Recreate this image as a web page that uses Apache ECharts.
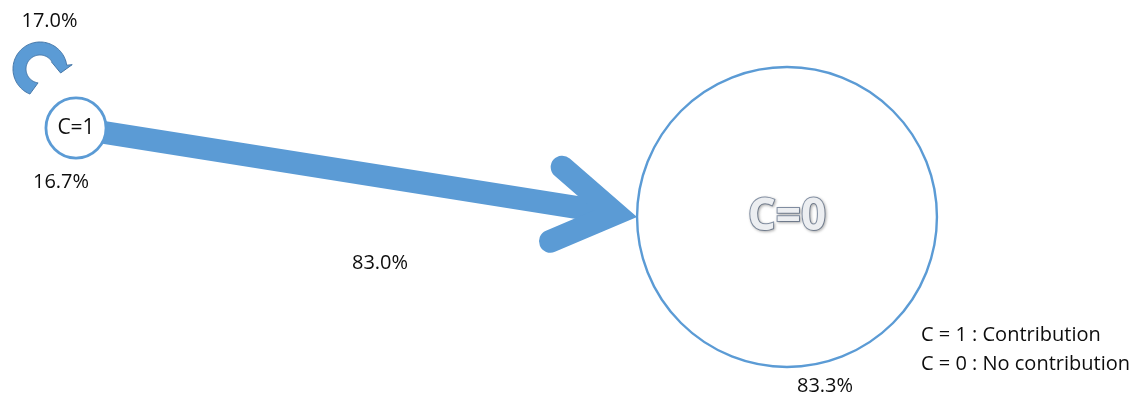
<!DOCTYPE html>
<html>
<head>
<meta charset="utf-8">
<script src="https://cdn.jsdelivr.net/npm/echarts@6/dist/echarts.min.js"></script>
<style>
html,body{margin:0;padding:0;background:#fff;}
#chart{width:1144px;height:399px;}
</style>
</head>
<body>
<div id="chart"></div>
<script>
// ---------------- data ----------------
const stateNames = ['C=1', 'C=0'];
const stateShares = [16.7, 83.3];           // stationary share of each state (%)
const transFrom = [0, 0];                   // index into stateNames
const transTo = [0, 1];
const transProbs = [17.0, 83.0];            // transition probability (%)
const legendLines = ['C = 1 : Contribution', 'C = 0 : No contribution'];

// ---------------- layout (positions / sizes / styles) ----------------
const LAYOUT = {
  nodeCenters: [[76, 128], [787, 217]],
  radiusPerPct: 1.8,
  shareLabelPos: [[61, 182.5], [825, 386.7]],
  transLabelPos: [[49.5, 21.7], [380, 263.3]],
  loop: { center: [40, 69], rIn: 14, rOut: 27 },
  arrow: { width: 23, headHalfAngle: 32, headArm: 70.8 },
  legendPos: [921, 338],
  legendGap: 29
};
const BLUE = '#5b9bd5';
const FONT = '"Open Sans", "Noto Sans", sans-serif';
const TEXT = '#0d0d0d';

const chart = echarts.init(document.getElementById('chart'), null, { renderer: 'canvas' });

function rad(d) { return d * Math.PI / 180; }

function renderTransition(params, api) {
  const from = api.value(0), to = api.value(1), prob = api.value(2);
  const children = [];
  const lbl = LAYOUT.transLabelPos[params.dataIndex];
  const lp = api.coord(lbl);
  if (from === to) {
    const L = LAYOUT.loop;
    const pt = (a, r) => api.coord([L.center[0] + r * Math.cos(rad(a)), L.center[1] + r * Math.sin(rad(a))]);
    const pts = [];
    for (let a = 112; a <= 352; a += 3) pts.push(pt(a, L.rOut));
    pts.push(pt(352, L.rOut));
    pts.push(pt(352.3, 32.5));
    pts.push(pt(371, 21));
    pts.push(pt(328, 13.5));
    for (let a = 328; a >= 98; a -= 3) pts.push(pt(a, L.rIn));
    pts.push(pt(98, L.rIn));
    children.push({
      type: 'polygon', shape: { points: pts },
      style: { fill: BLUE, stroke: '#4677a8', lineWidth: 1 }
    });
  } else {
    const c0 = LAYOUT.nodeCenters[from], c1 = LAYOUT.nodeCenters[to];
    const r0 = stateShares[from] * LAYOUT.radiusPerPct;
    const r1 = stateShares[to] * LAYOUT.radiusPerPct;
    const T = [c1[0] - r1, c1[1]];
    let ux = T[0] - c0[0], uy = T[1] - c0[1];
    const len = Math.hypot(ux, uy); ux /= len; uy /= len;
    const nx = -uy, ny = ux;
    const A = LAYOUT.arrow, hw = A.width / 2;
    const th = rad(A.headHalfAngle);
    const miter = hw / Math.sin(th);
    const S = [c0[0] + ux * (r0 - 3), c0[1] + uy * (r0 - 3)];
    const V = [T[0] - ux * miter, T[1] - uy * miter];
    const back = A.headArm * Math.cos(th), side = A.headArm * Math.sin(th);
    const E1 = [V[0] - ux * back - nx * side, V[1] - uy * back - ny * side];
    const E2 = [V[0] - ux * back + nx * side, V[1] - uy * back + ny * side];
    const shaft = [
      [S[0] + nx * hw, S[1] + ny * hw], [V[0] + nx * hw, V[1] + ny * hw],
      [V[0] - nx * hw, V[1] - ny * hw], [S[0] - nx * hw, S[1] - ny * hw]
    ].map(p => api.coord(p));
    children.push({ type: 'polygon', shape: { points: shaft }, style: { fill: BLUE } });
    children.push({
      type: 'polyline', shape: { points: [E1, V, E2].map(p => api.coord(p)) },
      style: { stroke: BLUE, fill: null, lineWidth: A.width, lineCap: 'round', lineJoin: 'miter', miterLimit: 10 }
    });
  }
  children.push({
    type: 'text',
    style: { text: prob.toFixed(1) + '%', x: lp[0], y: lp[1], align: 'center', verticalAlign: 'middle',
             font: '20px ' + FONT, fill: TEXT }
  });
  return { type: 'group', children };
}

const nodeData = stateNames.map((n, i) => {
  const big = i === 1;
  return {
    name: n,
    value: [LAYOUT.nodeCenters[i][0], LAYOUT.nodeCenters[i][1], stateShares[i]],
    itemStyle: { color: '#ffffff', borderColor: BLUE, borderWidth: big ? 2.4 : 2.8, opacity: 1 },
    label: big ? {
      show: true, position: 'inside', formatter: '{b}',
      fontFamily: FONT, fontSize: 44, fontWeight: 'bold', color: '#eceef1',
      textBorderColor: '#8592a6', textBorderWidth: 2,
      textShadowColor: 'rgba(0,0,0,0.25)', textShadowBlur: 3, textShadowOffsetX: 1, textShadowOffsetY: 1
    } : {
      show: true, position: 'inside', formatter: '{b}',
      fontFamily: FONT, fontSize: 21, color: TEXT
    }
  };
});

const shareData = stateShares.map((s, i) => ({
  value: [LAYOUT.shareLabelPos[i][0], LAYOUT.shareLabelPos[i][1]],
  label: { formatter: s.toFixed(1) + '%' }
}));

const transData = transFrom.map((f, i) => [f, transTo[i], transProbs[i]]);

const option = {
  animation: false,
  backgroundColor: '#ffffff',
  grid: { left: 0, right: 0, top: 0, bottom: 0 },
  xAxis: { type: 'value', min: 0, max: 1144, show: false },
  yAxis: { type: 'value', min: 0, max: 399, inverse: true, show: false },
  graphic: legendLines.map((t, i) => ({
    type: 'text', left: LAYOUT.legendPos[0], top: LAYOUT.legendPos[1] + i * LAYOUT.legendGap - 13,
    style: { text: t, font: '20px ' + FONT, fill: TEXT }
  })),
  series: [
    {
      type: 'custom', coordinateSystem: 'cartesian2d', z: 1, silent: true,
      data: transData, encode: { x: -1, y: -1 },
      dimensions: ['from', 'to', 'prob'],
      renderItem: renderTransition
    },
    {
      type: 'scatter', z: 3, silent: true,
      symbol: 'circle',
      itemStyle: { opacity: 1 },
      symbolSize: v => v[2] * LAYOUT.radiusPerPct * 2,
      data: nodeData
    },
    {
      type: 'scatter', z: 4, silent: true, symbolSize: 0,
      itemStyle: { opacity: 1 },
      data: shareData,
      label: { show: true, position: 'inside', fontFamily: FONT, fontSize: 20, color: TEXT }
    }
  ]
};
chart.setOption(option);
</script>
</body>
</html>
